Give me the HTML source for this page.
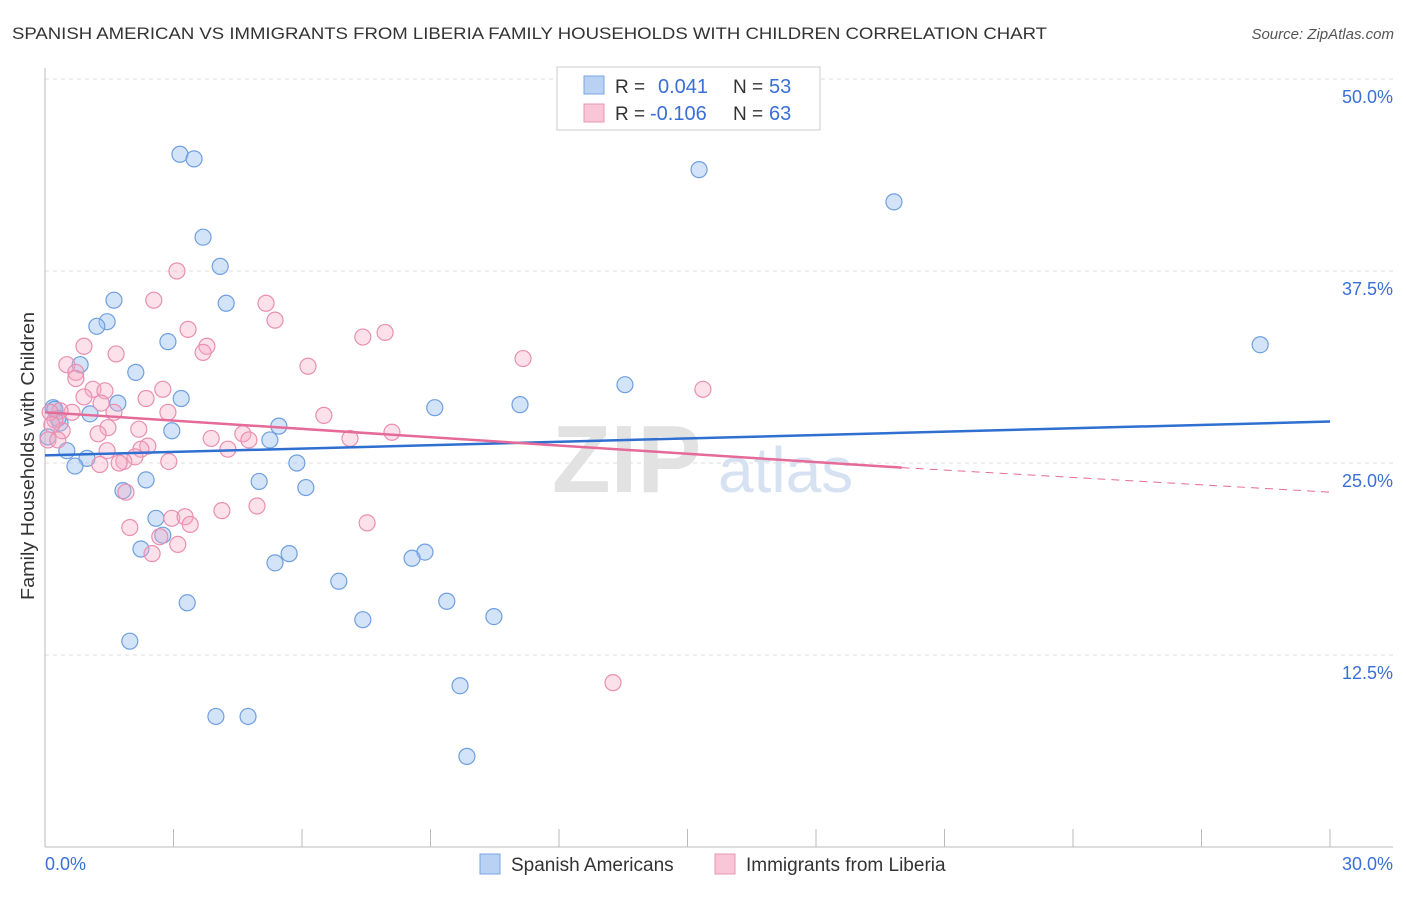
<!DOCTYPE html>
<html><head><meta charset="utf-8"><style>
body{margin:0;background:#fff;font-family:"Liberation Sans",sans-serif;}
svg text{font-family:"Liberation Sans",sans-serif;}
</style></head><body>
<svg id="chart" width="1406" height="892">
<text x="12" y="39" font-size="17" fill="#333" textLength="1035" lengthAdjust="spacingAndGlyphs">SPANISH AMERICAN VS IMMIGRANTS FROM LIBERIA FAMILY HOUSEHOLDS WITH CHILDREN CORRELATION CHART</text>
<text x="1394" y="39" font-size="15" fill="#555" text-anchor="end" font-style="italic">Source: ZipAtlas.com</text>
<text transform="translate(34,456) rotate(-90)" font-size="18" fill="#333" text-anchor="middle" textLength="288" lengthAdjust="spacingAndGlyphs">Family Households with Children</text>
<g id="grid"></g>
<text x="552" y="492" font-size="96" fill="#e2e2e2" font-weight="bold">ZIP</text>
<text x="718" y="492" font-size="64" fill="#d6e2f2">atlas</text>
<g id="marks"></g>
<g>
<rect x="557" y="67" width="263" height="63" fill="#fff" stroke="#ccc"/>
<rect x="584" y="76" width="20" height="18" fill="#b9d2f3" stroke="#7aa6e0"/>
<rect x="584" y="104" width="20" height="18" fill="#f8c6d6" stroke="#e995b5"/>
<text x="615" y="93" font-size="19" fill="#333">R = </text><text x="658" y="93" font-size="20" fill="#3a6fd8">0.041</text>
<text x="733" y="93" font-size="19" fill="#333">N = </text><text x="769" y="93" font-size="20" fill="#3a6fd8">53</text>
<text x="615" y="120" font-size="19" fill="#333">R = </text><text x="650" y="120" font-size="20" fill="#3a6fd8">-0.106</text>
<text x="733" y="120" font-size="19" fill="#333">N = </text><text x="769" y="120" font-size="20" fill="#3a6fd8">63</text>
</g>
<g>
<rect x="480" y="854" width="20" height="20" fill="#b9d2f3" stroke="#7aa6e0"/>
<text x="511" y="871" font-size="19" fill="#333">Spanish Americans</text>
<rect x="715" y="854" width="20" height="20" fill="#f8c6d6" stroke="#e995b5"/>
<text x="746" y="871" font-size="19" fill="#333">Immigrants from Liberia</text>
</g>
</svg>
<script>
const blueX=[3.15,3.48,15.27,19.82,3.69,4.09,1.61,4.23,1.45,1.21,2.87,28.37,0.82,2.12,13.54,3.18,1.70,11.09,9.10,0.19,1.05,0.35,2.96,5.46,5.25,0.51,0.98,0.70,5.88,5.00,2.36,1.82,6.09,2.59,2.75,2.24,5.70,5.37,8.87,8.57,6.86,3.32,9.38,7.42,10.48,1.98,9.69,3.99,4.74,9.85,0.07,0.23,0.30];
const blueY=[45.1,44.8,44.1,42.0,39.7,37.8,35.6,35.4,34.2,33.9,32.9,32.7,31.4,30.9,30.1,29.2,28.9,28.8,28.6,28.6,28.2,27.6,27.1,27.4,26.5,25.8,25.3,24.8,25.0,23.8,23.9,23.2,23.4,21.4,20.3,19.4,19.1,18.5,19.2,18.8,17.3,15.9,16.0,14.8,15.0,13.4,10.5,8.5,8.5,5.9,26.7,28.5,27.9];
const pinkX=[3.08,2.54,5.16,5.37,3.34,7.94,7.42,3.78,3.69,0.91,1.66,11.16,0.51,6.14,0.72,0.72,2.75,1.12,1.40,15.36,2.36,0.91,1.31,2.87,1.61,0.63,0.35,6.51,2.19,1.47,1.24,8.10,7.12,3.88,4.62,4.76,4.27,2.40,2.24,1.45,2.10,1.84,1.73,1.28,2.89,1.89,4.95,4.13,2.96,3.27,3.39,7.52,1.98,2.68,3.10,2.50,13.26,0.23,0.40,0.12,0.07,0.30,0.16];
const pinkY=[37.5,35.6,35.4,34.3,33.7,33.5,33.2,32.6,32.2,32.6,32.1,31.8,31.4,31.3,30.9,30.5,29.8,29.8,29.7,29.8,29.2,29.3,28.9,28.3,28.3,28.3,28.4,28.1,27.2,27.3,26.9,27.0,26.6,26.6,26.9,26.5,25.9,26.1,25.9,25.8,25.4,25.1,25.0,24.9,25.1,23.1,22.2,21.9,21.4,21.5,21.0,21.1,20.8,20.2,19.7,19.1,10.7,27.8,27.1,28.3,26.5,26.5,27.5];
const yTicks=[12.5,25,37.5,50];
const xTickVals=[0,3,6,9,12,15,18,21,24,27,30];
const blueTrend=[25.5,27.7];
const pinkTrend=[28.3,24.7,23.1];
const pinkSolidEnd=20;

const X=v=>45+v/30*1285, Y=v=>847-v*15.36;
const NS="http://www.w3.org/2000/svg";
function mk(t,a,p){const e=document.createElementNS(NS,t);for(const k in a)e.setAttribute(k,a[k]);p.appendChild(e);return e;}
const g=document.getElementById('grid'), m=document.getElementById('marks');
yTicks.forEach(v=>{
 const l=mk('line',{x1:45,x2:1393,y1:Y(v),y2:Y(v),stroke:'#ddd','stroke-dasharray':'4,4'},g);
 
 
 const t=mk('text',{x:1393,y:Y(v)+24,'font-size':18,fill:'#3a6fd8','text-anchor':'end'},g);t.textContent=v.toFixed(1)+'%';
 
 
});
mk('line',{x1:45,x2:45,y1:68,y2:847,stroke:'#bbb'},g);
mk('line',{x1:45,x2:1393,y1:847,y2:847,stroke:'#bbb'},g);
xTickVals.forEach(v=>{
 const l=mk('line',{x1:X(v),x2:X(v),y1:829,y2:847,stroke:'#bbb'},g);
 
 
});
[[0,'start',45],[30,'end',1393]].forEach(([v,a,x])=>{
 const t=mk('text',{x:x,y:870,'font-size':18,fill:'#3a6fd8','text-anchor':a},g);t.textContent=v.toFixed(1)+'%';
 
 
});
blueX.forEach((v,i)=>{
 const c=mk('circle',{cx:X(v),cy:Y(blueY[i]),r:8,fill:'rgba(160,196,240,0.45)',stroke:'#6f9fe0','stroke-width':1.2},m);
 
 
});
pinkX.forEach((v,i)=>{
 const c=mk('circle',{cx:X(v),cy:Y(pinkY[i]),r:8,fill:'rgba(245,170,195,0.35)',stroke:'#e98fb0','stroke-width':1.2},m);
 
 
});
const bt=mk('line',{x1:X(0),y1:Y(blueTrend[0]),x2:X(30),y2:Y(blueTrend[1]),stroke:'#2f6fd0','stroke-width':2.5},m);


const pt=mk('line',{x1:X(0),y1:Y(pinkTrend[0]),x2:X(pinkSolidEnd),y2:Y(pinkTrend[1]),stroke:'#e56a98','stroke-width':2.5},m);


const pd=mk('line',{x1:X(pinkSolidEnd),y1:Y(pinkTrend[1]),x2:X(30),y2:Y(pinkTrend[2]),stroke:'#e56a98','stroke-width':1,'stroke-dasharray':'8,6'},m);


</script>
</body></html>
